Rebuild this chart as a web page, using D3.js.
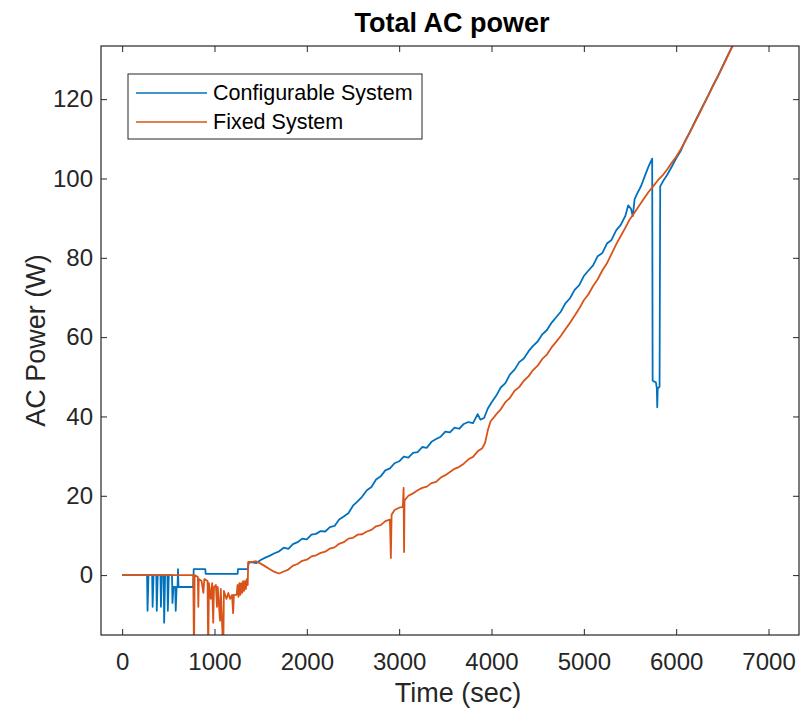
<!DOCTYPE html>
<html>
<head>
<meta charset="utf-8">
<script src="https://cdn.jsdelivr.net/npm/d3@7"></script>
<style>
  html, body { margin: 0; padding: 0; background: #fff; }
  svg { display: block; font-family: "Liberation Sans", Arial, Helvetica, sans-serif; }
</style>
</head>
<body>
<svg id="chart" width="800" height="716"></svg>
<script>
// Time stamps (sec) and AC power (W) for the configurable system
const configurableTime = [
  0, 270, 275, 285, 325, 330, 340, 370, 375, 385, 415, 420, 430, 450, 455, 465, 490, 495, 505,
  540, 545, 555, 575, 580, 590, 600, 605, 610, 770, 775, 900, 905, 1250, 1255, 1360, 1370,
  1400, 1450, 1500, 1550, 1600, 1650, 1700, 1750, 1800, 1850, 1900, 1950, 2000, 2050, 2100,
  2150, 2200, 2250, 2300, 2350, 2400, 2450, 2500, 2550, 2600, 2650, 2700, 2750, 2800, 2850,
  2900, 2950, 3000, 3050, 3100, 3150, 3200, 3250, 3300, 3350, 3400, 3450, 3500, 3550, 3600,
  3650, 3700, 3750, 3800, 3850, 3880, 3920, 3960, 4000, 4050, 4100, 4150, 4200, 4250, 4300,
  4350, 4400, 4450, 4500, 4550, 4600, 4650, 4700, 4750, 4800, 4850, 4900, 4950, 5000, 5050,
  5100, 5150, 5200, 5250, 5300, 5350, 5400, 5450, 5480, 5510, 5530, 5550, 5580, 5620, 5660,
  5700, 5740, 5745, 5780, 5790, 5795, 5800, 5820, 5827, 5860, 5900, 5950, 6000, 6050, 6100,
  6150, 6200, 6250, 6300, 6350, 6400, 6450, 6500, 6550, 6600, 6650
];
const configurablePower = [
  0, 0, -9, 0, 0, -8, 0, 0, -9, 0, 0, -8, 0, 0, -12, 0, 0, -9, 0,
  0, -7, -3, -3, -9, -3, -3, 1.5, -3, -3, 1.5, 1.5, 0.3, 0.3, 1.5, 1.5, 3,
  3.3, 3.0, 3.8, 4.4, 4.9, 5.5, 6.0, 6.9, 6.6, 7.8, 8.3, 9.2, 9.0, 10.2, 10.4,
  11.1, 11.0, 12.1, 12.4, 14.0, 14.8, 15.6, 17.5, 18.6, 19.8, 21.4, 22.2, 24.1, 24.9, 26.4,
  26.9, 28.2, 28.7, 29.9, 29.6, 30.8, 31.0, 32.3, 32.1, 33.6, 34.3, 34.9, 36.2, 36.0, 37.2,
  36.9, 38.1, 38.6, 38.3, 40.6, 39.2, 39.6, 42.0, 43.5, 45.2, 47.3, 48.4, 50.6, 51.8, 53.7,
  54.6, 56.4, 57.8, 58.9, 60.7, 61.8, 63.6, 65.0, 66.4, 68.5, 69.8, 71.9, 73.1, 75.4, 76.8,
  78.1, 80.4, 81.2, 83.6, 84.5, 86.9, 88.3, 90.6, 93.2, 92.4, 90.5, 94.8, 96.3, 98.1, 100.6,
  103.0, 105.0, 49.0, 48.6, 47.2, 42.3, 47.0, 47.5, 98.0, 99.4, 100.8, 102.9, 105.1, 107.0, 109.6,
  111.8, 114.2, 116.5, 118.8, 121.1, 123.5, 125.7, 128.2, 130.6, 133.0, 135.4
];

// Time stamps (sec) and AC power (W) for the fixed system
const fixedTime = [
  0, 770, 778, 785, 820, 825, 830, 860, 880, 890, 925, 932, 940, 960, 975, 986, 995, 1015,
  1027, 1035, 1060, 1068, 1095, 1102, 1130, 1150, 1170, 1190, 1202, 1210, 1240, 1250, 1260,
  1270, 1280, 1290, 1300, 1310, 1320, 1330, 1340, 1350, 1360, 1365,
  1400, 1450, 1500, 1550, 1600, 1650, 1700, 1750, 1800, 1850, 1900, 1950, 2000, 2050, 2100,
  2150, 2200, 2250, 2300, 2350, 2400, 2450, 2500, 2550, 2600, 2650, 2700, 2750, 2800, 2850,
  2900, 2910, 2918, 2950, 3000, 3040, 3048, 3053, 3058, 3100, 3150, 3200, 3250, 3300, 3350,
  3400, 3450, 3500, 3550, 3600, 3650, 3700, 3750, 3800, 3850, 3900, 3930, 3960, 3990, 4030,
  4060, 4100, 4150, 4200, 4250, 4300, 4350, 4400, 4450, 4500, 4550, 4600, 4650, 4700, 4750,
  4800, 4850, 4900, 4950, 5000, 5050, 5100, 5150, 5200, 5250, 5300, 5350, 5400, 5450, 5500,
  5550, 5600, 5650, 5700, 5750, 5800, 5850, 5900, 5950, 6000, 6050, 6100, 6150, 6200, 6250,
  6300, 6350, 6400, 6450, 6500, 6550, 6600, 6650
];
const fixedPower = [
  0, 0, -20, 0, -0.5, -8, -1, -1.5, -4.5, -1, -1.5, -20, -2, -6, -2, -12, -3, -2.5,
  -8, -3, -11.5, -3.5, -20, -4, -6, -4.5, -6, -5, -9.6, -5, -5, -2.5, -5.5,
  -2, -5, -2, -4.5, -1.5, -4, -1.5, -3.5, -1, -2.5, 3.3,
  3.3, 3.5, 2.9, 2.2, 1.5, 0.8, 0.4, 0.9, 1.4, 2.4, 2.8, 3.6, 3.9, 4.7, 5.0,
  5.6, 5.9, 6.7, 7.0, 7.9, 8.3, 9.2, 9.4, 10.2, 10.3, 11.0, 11.4, 12.3, 12.6, 13.6,
  14.0, 4.3, 15.2, 16.4, 17.0, 17.2, 22.0, 5.8, 18.8, 20.0, 20.6, 21.4, 22.0, 22.3, 23.2,
  23.5, 24.6, 25.2, 26.0, 26.8, 27.3, 28.1, 29.2, 29.8, 31.2, 32.0, 33.3, 36.5, 38.8, 39.9,
  40.8, 41.8, 43.6, 44.7, 46.5, 47.4, 49.0, 50.1, 51.7, 52.8, 54.5, 55.6, 57.4, 58.8, 60.3,
  62.0, 63.6, 65.4, 67.2, 69.3, 70.8, 72.9, 74.6, 76.8, 78.6, 81.0, 83.4, 85.5, 87.6, 89.8,
  91.4, 93.2, 94.9, 96.6, 98.0, 99.5, 100.7, 102.2, 103.9, 105.5, 107.4, 109.5, 111.7, 114.0, 116.3,
  118.7, 121.0, 123.4, 125.7, 128.0, 130.5, 132.9, 135.3
];

const seriesNames = ["Configurable System", "Fixed System"];
const xTicks = [0, 1000, 2000, 3000, 4000, 5000, 6000, 7000];
const yTicks = [0, 20, 40, 60, 80, 100, 120];

const colors = ["#0072BD", "#D95319"];
const axisColor = "#262626";

const svg = d3.select("#chart");
const box = { left: 101, right: 799, top: 46, bottom: 635 };

const x = d3.scaleLinear().domain([-229, 7330]).range([box.left, box.right]);
const y = d3.scaleLinear().domain([-15.1, 133.4]).range([box.bottom, box.top]);

// clip the traces to the axes box
svg.append("defs").append("clipPath").attr("id", "plotClip")
  .append("rect")
  .attr("x", box.left).attr("y", box.top)
  .attr("width", box.right - box.left).attr("height", box.bottom - box.top);

const series = [
  configurableTime.map((t, i) => [t, configurablePower[i]]),
  fixedTime.map((t, i) => [t, fixedPower[i]])
];

const line = d3.line().x(d => x(d[0])).y(d => y(d[1]));

const plot = svg.append("g").attr("clip-path", "url(#plotClip)");
series.forEach((s, i) => {
  plot.append("path")
    .datum(s)
    .attr("fill", "none")
    .attr("stroke", colors[i])
    .attr("stroke-width", 1.8)
    .attr("stroke-linejoin", "round")
    .attr("d", line);
});

// axes: ticks inward on all four sides
const tickLen = 6;
function styleAxis(g) {
  g.select(".domain").remove();
  g.selectAll(".tick line").attr("stroke", axisColor).attr("stroke-width", 1);
  g.selectAll(".tick text").attr("fill", axisColor).attr("font-size", 24);
}

svg.append("g")
  .attr("transform", `translate(0,${box.bottom})`)
  .call(d3.axisBottom(x).tickValues(xTicks).tickSize(-tickLen).tickPadding(18).tickFormat(d3.format("d")))
  .call(styleAxis);
svg.append("g")
  .attr("transform", `translate(0,${box.top})`)
  .call(d3.axisTop(x).tickValues(xTicks).tickSize(-tickLen).tickFormat(""))
  .call(styleAxis);
svg.append("g")
  .attr("transform", `translate(${box.left},0)`)
  .call(d3.axisLeft(y).tickValues(yTicks).tickSize(-tickLen).tickPadding(8).tickFormat(d3.format("d")))
  .call(styleAxis);
svg.append("g")
  .attr("transform", `translate(${box.right},0)`)
  .call(d3.axisRight(y).tickValues(yTicks).tickSize(-tickLen).tickFormat(""))
  .call(styleAxis);

svg.append("rect")
  .attr("x", box.left).attr("y", box.top)
  .attr("width", box.right - box.left).attr("height", box.bottom - box.top)
  .attr("fill", "none").attr("stroke", axisColor).attr("stroke-width", 1.2);

// title and axis labels
svg.append("text")
  .attr("x", (box.left + box.right) / 2 + 2).attr("y", 32)
  .attr("text-anchor", "middle").attr("font-size", 27).attr("font-weight", "bold")
  .attr("fill", "#000")
  .text("Total AC power");

svg.append("text")
  .attr("x", (box.left + box.right) / 2 + 8).attr("y", 702)
  .attr("text-anchor", "middle").attr("font-size", 27)
  .attr("fill", axisColor)
  .text("Time (sec)");

svg.append("text")
  .attr("transform", `translate(45,${(box.top + box.bottom) / 2}) rotate(-90)`)
  .attr("text-anchor", "middle").attr("font-size", 27)
  .attr("fill", axisColor)
  .text("AC Power (W)");

// legend
const legend = svg.append("g");
legend.append("rect")
  .attr("x", 128).attr("y", 74).attr("width", 294).attr("height", 65)
  .attr("fill", "#fff").attr("stroke", axisColor).attr("stroke-width", 1);
seriesNames.forEach((name, i) => {
  const ly = 93 + i * 29;
  legend.append("line")
    .attr("x1", 136).attr("x2", 207).attr("y1", ly).attr("y2", ly)
    .attr("stroke", colors[i]).attr("stroke-width", 1.6);
  legend.append("text")
    .attr("x", 213).attr("y", ly + 7)
    .attr("font-size", 21.5).attr("fill", "#000")
    .text(name);
});
</script>
</body>
</html>
